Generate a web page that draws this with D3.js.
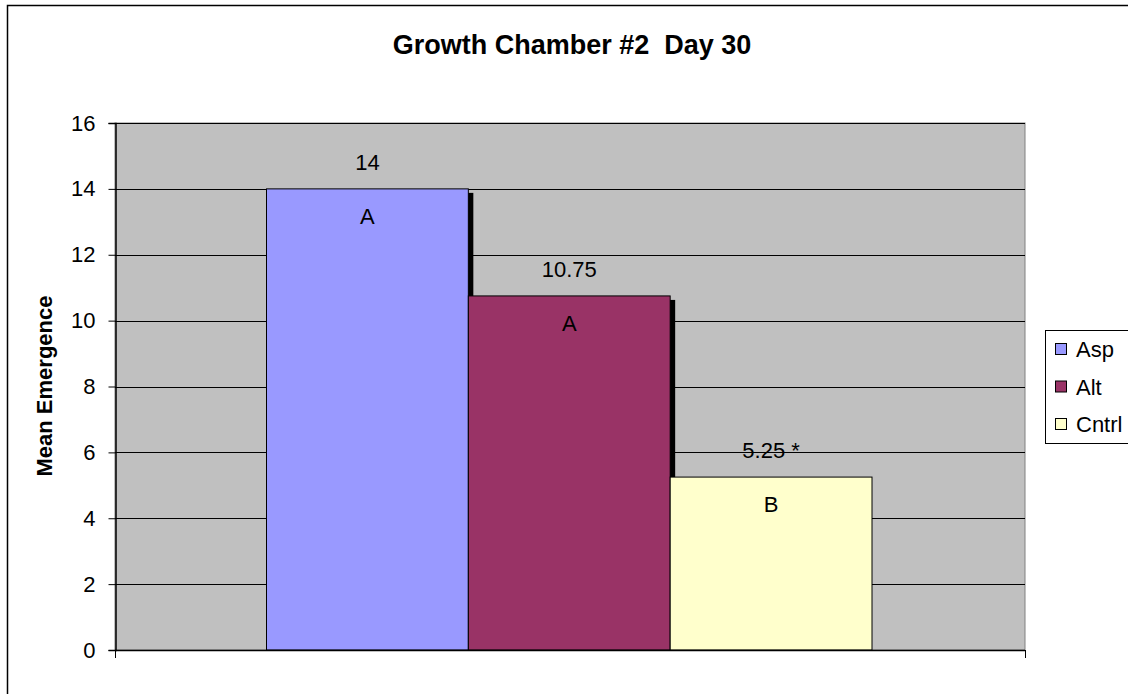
<!DOCTYPE html>
<html>
<head>
<meta charset="utf-8">
<script src="https://cdn.jsdelivr.net/npm/d3@7"></script>
<style>
  html, body { margin: 0; padding: 0; background: #fff; overflow: hidden; }
  svg { display: block; font-family: "Liberation Sans", Arial, sans-serif; }
</style>
</head>
<body>
<svg id="chart" width="1128" height="694"></svg>
<script>
// Mean emergence per treatment, growth chamber #2, day 30
const series = ["Asp", "Alt", "Cntrl"];
const values = [14, 10.75, 5.25];
const valueLabels = ["14", "10.75", "5.25 *"];
const groupLetters = ["A", "A", "B"];
const colors = ["#9999FF", "#993366", "#FFFFCC"];
const yTicks = [0, 2, 4, 6, 8, 10, 12, 14, 16];

const FONT = "Liberation Sans, Arial, sans-serif";
const svg = d3.select("#chart");

// outer chart frame (runs off the right and bottom edges)
svg.append("rect")
  .attr("x", 7.5).attr("y", 5.5)
  .attr("width", 1200).attr("height", 800)
  .attr("fill", "#fff").attr("stroke", "#000").attr("stroke-width", 1.5);

const plot = { left: 115, right: 1025, top: 123, bottom: 650 };

const y = d3.scaleLinear().domain([0, 16]).range([plot.bottom, plot.top]);

// one category, three series side by side with no gap
const x = d3.scaleBand().domain(series).range([266.5, 872]).padding(0);

// plot area
svg.append("rect")
  .attr("x", plot.left).attr("y", plot.top)
  .attr("width", plot.right - plot.left).attr("height", plot.bottom - plot.top)
  .attr("fill", "#C0C0C0").attr("stroke", "#808080").attr("stroke-width", 1);

// horizontal gridlines
svg.append("g")
  .selectAll("line")
  .data(yTicks.filter(d => d > 0))
  .join("line")
  .attr("x1", plot.left).attr("x2", plot.right)
  .attr("y1", d => Math.round(y(d)) + 0.5).attr("y2", d => Math.round(y(d)) + 0.5)
  .attr("stroke", "#000").attr("stroke-width", 1);

// bars, each with a dark drop shadow that the following bar overlaps
const bars = svg.append("g");
series.forEach((s, i) => {
  if (i < series.length - 1) {
    bars.append("rect")
      .attr("x", x(s) + 5).attr("y", y(values[i]) + 4)
      .attr("width", x.bandwidth()).attr("height", y(0) - y(values[i]) - 4)
      .attr("fill", "#000");
  }
});
series.forEach((s, i) => {
  bars.append("rect")
    .attr("x", x(s)).attr("y", y(values[i]))
    .attr("width", x.bandwidth()).attr("height", y(0) - y(values[i]))
    .attr("fill", colors[i]).attr("stroke", "#000").attr("stroke-width", 1);
});

// value labels above the bars and group letters inside
const labels = svg.append("g")
  .attr("font-size", 22).attr("font-family", FONT)
  .attr("text-anchor", "middle").attr("fill", "#000");
series.forEach((s, i) => {
  const cx = x(s) + x.bandwidth() / 2;
  labels.append("text")
    .attr("x", cx).attr("y", y(values[i]) - 19)
    .text(valueLabels[i]);
  labels.append("text")
    .attr("x", cx).attr("y", y(values[i]) + 35)
    .text(groupLetters[i]);
});

// y axis
const yAxis = d3.axisLeft(y).tickValues(yTicks).tickSize(7).tickPadding(13).tickFormat(d3.format("d"));
const gy = svg.append("g")
  .attr("transform", `translate(${plot.left + 0.5},0)`)
  .call(yAxis);
gy.select(".domain").attr("stroke", "#000").attr("stroke-width", 1.5);
gy.selectAll(".tick line").attr("stroke", "#000");
gy.selectAll(".tick text").attr("font-size", 22).attr("font-family", FONT).attr("fill", "#000");

// x axis baseline with end ticks
svg.append("line")
  .attr("x1", plot.left).attr("x2", plot.right)
  .attr("y1", plot.bottom + 0.5).attr("y2", plot.bottom + 0.5)
  .attr("stroke", "#000").attr("stroke-width", 1.5);
[plot.left, plot.right].forEach(px => {
  svg.append("line")
    .attr("x1", px + 0.5).attr("x2", px + 0.5)
    .attr("y1", plot.bottom).attr("y2", plot.bottom + 8)
    .attr("stroke", "#000").attr("stroke-width", 1);
});

// title
svg.append("text")
  .attr("x", 572).attr("y", 54)
  .attr("text-anchor", "middle")
  .attr("font-size", 27).attr("font-weight", "bold").attr("font-family", FONT)
  .style("white-space", "pre")
  .text("Growth Chamber #2  Day 30");

// y axis title
svg.append("text")
  .attr("transform", "translate(52,386) rotate(-90)")
  .attr("text-anchor", "middle")
  .attr("font-size", 22).attr("font-weight", "bold").attr("font-family", FONT)
  .text("Mean Emergence");

// legend
const legend = svg.append("g");
legend.append("rect")
  .attr("x", 1045.5).attr("y", 330.5)
  .attr("width", 100).attr("height", 113)
  .attr("fill", "#fff").attr("stroke", "#000").attr("stroke-width", 1);
series.forEach((s, i) => {
  const cy = 349 + i * 37.5;
  legend.append("rect")
    .attr("x", 1055.5).attr("y", cy - 5.5)
    .attr("width", 11).attr("height", 11)
    .attr("fill", colors[i]).attr("stroke", "#000").attr("stroke-width", 1);
  legend.append("text")
    .attr("x", 1076).attr("y", cy + 8)
    .attr("font-size", 22).attr("font-family", FONT)
    .text(s);
});
</script>
</body>
</html>
